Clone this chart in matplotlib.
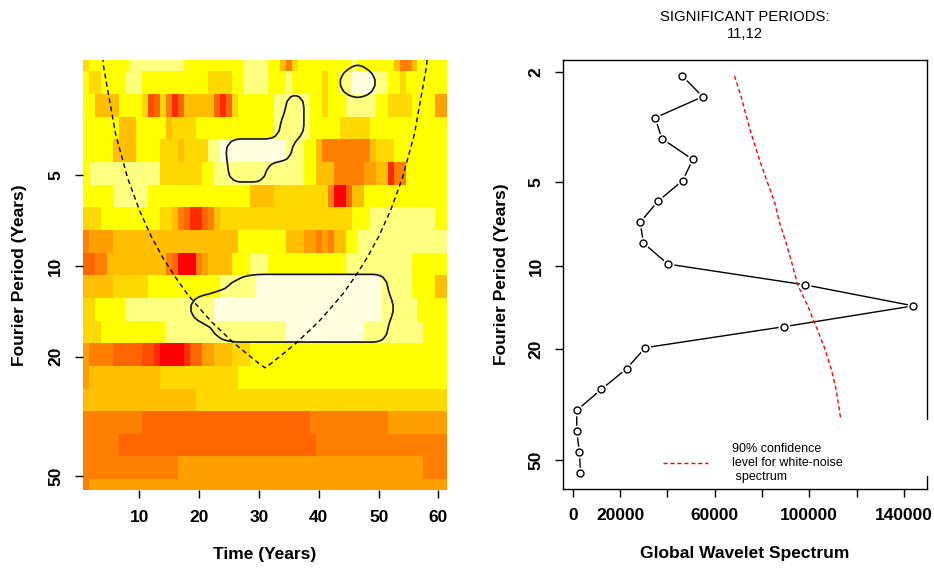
import numpy as np
import matplotlib.pyplot as plt
from matplotlib.colors import ListedColormap
from matplotlib.patches import Rectangle

plt.rcParams['font.family'] = ['Liberation Sans', 'DejaVu Sans']

# ---------------- data ----------------
years = np.arange(1, 62)
periods = [2.07, 2.46, 2.93, 3.48, 4.14, 4.93, 5.86, 6.97, 8.28, 9.85,
           11.71, 13.93, 16.56, 19.70, 23.43, 27.86, 33.13, 39.40, 46.85, 55.72]

# colour level of the wavelet power, one row per period (top to bottom)
# each run is (last year, level); 0 = red ... 10 = palest yellow
power_runs = [
    [(1, 7), (8, 8), (17, 9), (27, 8), (31, 9), (33, 8), (34, 6), (35, 4), (36, 7), (45, 8), (46, 9), (52, 8), (53, 6), (55, 4), (56, 6), (61, 8)],
    [(1, 8), (3, 7), (7, 8), (10, 9), (21, 8), (25, 7), (27, 8), (31, 9), (34, 8), (35, 9), (40, 8), (41, 7), (43, 8), (45, 9), (49, 10), (51, 9), (53, 8), (54, 7), (61, 8)],
    [(2, 8), (6, 6), (10, 8), (11, 7), (12, 2), (13, 3), (14, 7), (15, 4), (16, 1), (17, 3), (22, 6), (23, 3), (24, 1), (25, 3), (26, 7), (32, 8), (38, 9), (40, 8), (41, 7), (44, 8), (49, 9), (51, 8), (55, 7), (59, 8), (61, 5)],
    [(6, 8), (9, 6), (14, 8), (15, 6), (19, 7), (32, 8), (38, 9), (43, 8), (48, 7), (61, 8)],
    [(5, 8), (9, 6), (13, 8), (16, 7), (17, 6), (21, 7), (23, 9), (34, 10), (37, 9), (39, 8), (40, 6), (48, 4), (49, 6), (52, 7), (61, 8)],
    [(1, 8), (13, 9), (20, 7), (22, 8), (37, 9), (39, 8), (42, 6), (47, 4), (49, 5), (51, 6), (52, 1), (54, 4), (61, 8)],
    [(5, 8), (11, 9), (28, 8), (32, 6), (41, 7), (42, 4), (44, 0), (45, 3), (47, 6), (61, 8)],
    [(3, 7), (13, 8), (15, 7), (16, 6), (17, 4), (18, 3), (20, 1), (21, 3), (22, 4), (23, 6), (45, 7), (48, 8), (59, 9), (61, 8)],
    [(1, 4), (5, 5), (26, 6), (34, 8), (37, 6), (39, 5), (40, 4), (41, 5), (42, 4), (44, 6), (46, 8), (61, 9)],
    [(2, 3), (4, 4), (14, 6), (15, 4), (16, 3), (19, 0), (20, 4), (21, 5), (25, 6), (28, 8), (31, 9), (44, 8), (55, 9), (61, 8)],
    [(5, 6), (11, 7), (23, 8), (29, 9), (50, 10), (55, 9), (59, 8), (61, 6)],
    [(2, 7), (7, 8), (22, 9), (50, 10), (56, 9), (61, 8)],
    [(3, 7), (14, 8), (34, 9), (47, 10), (57, 9), (61, 8)],
    [(1, 5), (5, 4), (10, 3), (12, 2), (13, 1), (17, 0), (18, 1), (20, 3), (22, 5), (25, 6), (28, 7), (61, 8)],
    [(1, 5), (13, 6), (26, 7), (61, 8)],
    [(19, 6), (61, 7)],
    [(10, 4), (38, 3), (51, 4), (61, 5)],
    [(6, 4), (39, 3), (61, 4)],
    [(16, 4), (57, 5), (61, 4)],
    [(1, 4), (61, 5)],
]
level_colors = ['#FF0000', '#FF2A00', '#FF4D00', '#FF6600', '#FF8000', '#FF9F00',
                '#FFBF00', '#FFD800', '#FFFF00', '#FFFF80', '#FFFFDF']

# significance ratio: (row, first year, last year, value)
sig_cells = [(0, 45, 48, 0.4), (1, 44, 49, 1.0), (2, 45, 48, 0.3),
             (2, 35, 37, 1.0), (3, 34, 37, 1.0), (4, 25, 35, 1.0), (5, 25, 31, 0.8),
             (10, 21, 23, 0.3), (10, 24, 26, 0.5), (10, 27, 28, 0.8), (10, 29, 51, 1.0),
             (11, 19, 52, 1.0),
             (12, 20, 22, 0.35), (12, 23, 24, 0.7), (12, 25, 51, 1.0)]

# cone of influence
coi_years = [2, 4, 6, 8, 10, 12, 14, 16, 18, 20, 22, 24, 26, 28, 30, 31,
             32, 34, 36, 38, 40, 42, 44, 46, 48, 50, 52, 54, 56, 58, 60]
coi_periods = [0.73, 2.18, 3.64, 5.09, 6.54, 8.0, 9.45, 10.9, 12.4, 13.8, 15.3, 16.7, 18.2, 19.6, 21.1, 21.8,
               21.1, 19.6, 18.2, 16.7, 15.3, 13.8, 12.4, 10.9, 9.45, 8.0, 6.54, 5.09, 3.64, 2.18, 0.73]

# global wavelet spectrum and 90% white-noise level
gws = [46260, 54970, 34840, 37630, 50740, 46510, 35940, 28500, 29900, 40170,
       98390, 144060, 89220, 30610, 22830, 12010, 1690, 1690, 2830, 3260]
gws_signif = [68370, 71200, 73570, 76110, 78940, 82030, 85290, 87400, 90230, 92770,
              95140, 99370, 102920, 106430, 109260, 111380, 112770, 114040, 115100, 115950]

# ---------------- build grids ----------------
grid = []
for runs in power_runs:
    row = []
    start = 1
    for end, lev in runs:
        row += [lev] * (end - start + 1)
        start = end + 1
    grid.append(row)
grid = np.array(grid)

sig = np.zeros_like(grid, dtype=float)
for r, t0, t1, v in sig_cells:
    sig[r, t0 - 1:t1] = v

lp = np.log2(periods)
step = lp[1] - lp[0]
y_edges = np.concatenate([[lp[0] - step / 2], (lp[1:] + lp[:-1]) / 2, [lp[-1] + step / 2]])
x_edges = np.concatenate([years - 0.5, [years[-1] + 0.5]])

# finer, smoothed copy of the significance field so the contour is rounded
fy, fx = 4, 2
sig_f = np.repeat(np.repeat(sig, fy, axis=0), fx, axis=1)
sig_f = np.pad(sig_f, ((8, 8), (12, 12)))
kx = np.hanning(13)[1:-1]
kx /= kx.sum()
ky = np.hanning(7)[1:-1]
ky /= ky.sum()
sig_f = np.apply_along_axis(lambda v: np.convolve(v, kx, mode='same'), 1, sig_f)
sig_f = np.apply_along_axis(lambda v: np.convolve(v, ky, mode='same'), 0, sig_f)
t_f = years[0] - 0.5 + (np.arange(sig_f.shape[1]) - 12 + 0.5) / fx
y_f = lp[0] - step / 2 + (np.arange(sig_f.shape[0]) - 8 + 0.5) * step / fy

fig = plt.figure(figsize=(9.34, 5.69), dpi=100)
ax1 = fig.add_axes([0.0885, 0.138, 0.3905, 0.7566])
ax2 = fig.add_axes([0.6031, 0.1406, 0.3893, 0.754])

tick_font = dict(fontsize=12.5, fontweight='bold')

# ---------------- left: wavelet power ----------------
ax1.pcolormesh(x_edges, y_edges, grid, cmap=ListedColormap(level_colors),
               vmin=-0.5, vmax=10.5, shading='flat')
ax1.contour(t_f, y_f, sig_f, levels=[0.5], colors='#111111', linewidths=1.2)
ax1.plot(coi_years, np.log2(coi_periods), color='black', lw=1, dashes=(3.5, 2.5))
ax1.set_xlim(0.5, 61.5)
ax1.set_ylim(lp[-1], lp[0])
for s in ax1.spines.values():
    s.set_visible(False)
ax1.set_xticks([10, 20, 30, 40, 50, 60])
ax1.set_xticklabels(['10', '20', '30', '40', '50', '60'], **tick_font)
ax1.set_yticks(np.log2([5, 10, 20, 50]))
ax1.set_yticklabels(['5', '10', '20', '50'], rotation=90, va='center', **tick_font)
ax1.tick_params(axis='both', length=6, width=1, pad=8)
ax1.set_xlabel('Time (Years)', fontsize=12.5, fontweight='bold', labelpad=16)
ax1.set_ylabel('Fourier Period (Years)', fontsize=12.5, fontweight='bold', labelpad=15)

# ---------------- right: global wavelet spectrum ----------------
ax2.plot(gws, lp, color='black', lw=1, zorder=2)
ax2.plot(gws, lp, 'o', ms=8.5, mfc='white', mec='none', zorder=3)
ax2.plot(gws, lp, 'o', ms=5, mfc='none', mec='black', mew=1, zorder=4)
ax2.plot(gws_signif, lp, color='red', lw=1, dashes=(3, 2), zorder=2)

span = lp[-1] - lp[0]
ax2.set_ylim(lp[-1] + 0.04 * span, lp[0] - 0.04 * span)
lo, hi = min(gws), max(gws)
ax2.set_xlim(lo - 0.04 * (hi - lo), hi + 0.04 * (hi - lo))
ax2.set_xticks(np.arange(0, 140001, 20000))
ax2.set_xticklabels(['0', '20000', '', '60000', '', '100000', '', '140000'], **tick_font)
ax2.set_yticks(np.log2([2, 5, 10, 20, 50]))
ax2.set_yticklabels(['2', '5', '10', '20', '50'], rotation=90, va='center', **tick_font)
ax2.tick_params(axis='both', length=6, width=1, pad=8)
for s in ax2.spines.values():
    s.set_linewidth(1)
ax2.set_xlabel('Global Wavelet Spectrum', fontsize=12.5, fontweight='bold', labelpad=16)
ax2.set_ylabel('Fourier Period (Years)', fontsize=12.5, fontweight='bold', labelpad=14)
ax2.set_title('SIGNIFICANT PERIODS:\n11,12', fontsize=10.7, pad=16, linespacing=1.25)

# legend box (white, covers frame like the original)
ax2.add_patch(Rectangle((0.238, 0.03), 0.785, 0.131, transform=ax2.transAxes,
                        facecolor='white', edgecolor='none', clip_on=False, zorder=5))
ax2.plot([0.273, 0.397], [0.061, 0.061], transform=ax2.transAxes, color='red',
         lw=1, dashes=(3, 2), clip_on=False, zorder=6)
ax2.text(0.463, 0.060, '90% confidence\nlevel for white-noise\n spectrum',
         transform=ax2.transAxes, fontsize=9, ha='left', va='center',
         linespacing=1.2, zorder=6)

fig.savefig('out.png', dpi=100)
